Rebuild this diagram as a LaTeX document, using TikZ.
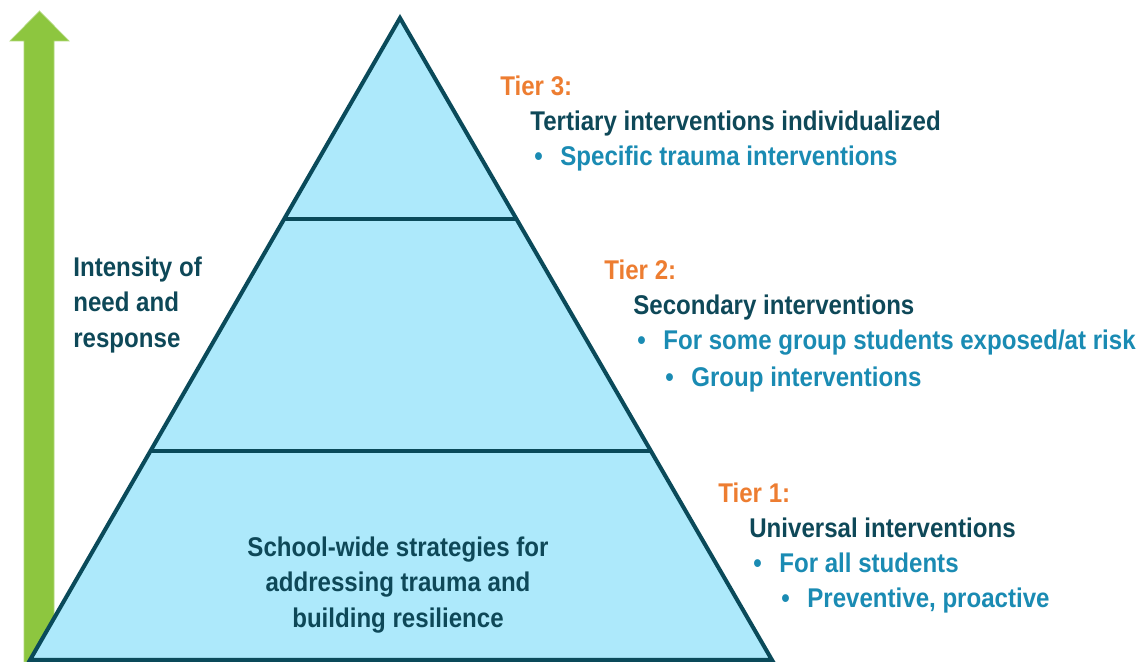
\documentclass[tikz,border=0pt]{standalone}
\usepackage{fontspec}
\setmainfont{Liberation Sans}[FakeStretch=0.89]
\usepackage{tikz}
\usetikzlibrary{calc}
\definecolor{tierorange}{RGB}{237, 125, 49}
\definecolor{tealdark}{RGB}{14, 72, 88}
\definecolor{pointblue}{RGB}{26, 139, 179}
\definecolor{pyrfill}{RGB}{173, 233, 251}
\definecolor{pyredge}{RGB}{10, 74, 90}
\definecolor{arrowgreen}{RGB}{141, 198, 63}
\newcommand{\pbul}{\makebox[0.52cm][l]{•}}
\tikzset{
  tierlabel/.style={anchor=base west, inner sep=0pt, text=tierorange, font=\bfseries\fontsize{15.4}{20}\selectfont},
  tiertitle/.style={anchor=base west, inner sep=0pt, text=tealdark, font=\bfseries\fontsize{15.4}{20}\selectfont},
  tierpoint/.style={anchor=base west, inner sep=0pt, text=pointblue, font=\bfseries\fontsize{15.4}{20}\selectfont},
  basetext/.style={align=center, inner sep=0pt, text=tealdark, font=\bfseries\fontsize{15.4}{20.2}\selectfont}
}

\begin{document}
\begin{tikzpicture}[x=0.02cm, y=-0.02cm]
    \useasboundingbox (0,0) rectangle (1143,662);

    % Arrow: intensity
    \fill[arrowgreen, draw=arrowgreen!70!white, line width=0.4pt]
        (24,662) -- (24,41) -- (10,41) -- (39.5,11) -- (69,41) -- (54,41) -- (54,662) -- cycle;
    \node[tiertitle] (IN) at (73,276) {Intensity of};
    \node[tiertitle] (IN2) at (73,312) {need and};
    \node[tiertitle] (IN3) at (73,347) {response};

    % Pyramid
    \coordinate (A) at (400,18);
    \coordinate (BL) at (30,660);
    \coordinate (BR) at (772,660);
    \coordinate (L1) at ($(A)!0.3131!(BL)$);
    \coordinate (R1) at ($(A)!0.3131!(BR)$);
    \coordinate (L2) at ($(A)!0.6745!(BL)$);
    \coordinate (R2) at ($(A)!0.6745!(BR)$);
    \filldraw[fill=pyrfill, draw=pyredge, line width=2.3pt, line join=miter] (A) -- (BR) -- (BL) -- cycle;
    \draw[pyredge, line width=2.3pt] (L1) -- (R1);
    \draw[pyredge, line width=2.3pt] (L2) -- (R2);

    \node[basetext, anchor=base] (BASE) at (398,627) {School-wide strategies for\\addressing trauma and\\building resilience};

    % Tier 3
    \node[tierlabel] (T3) at (500,96) {Tier 3:};
    \node[tiertitle] (T3a) at (530,131) {Tertiary interventions individualized};
    \node[tierpoint] (T3b) at (534,166) {\pbul Specific trauma interventions};

    % Tier 2
    \node[tierlabel] (T2) at (604,280) {Tier 2:};
    \node[tiertitle] (T2a) at (633,315) {Secondary interventions};
    \node[tierpoint] (T2b) at (637,350) {\pbul For some group students exposed/at risk};
    \node[tierpoint] (T2c) at (665,386) {\pbul Group interventions};

    % Tier 1
    \node[tierlabel] (T1) at (718,502) {Tier 1:};
    \node[tiertitle] (T1a) at (749,537) {Universal interventions};
    \node[tierpoint] (T1b) at (753,572) {\pbul For all students};
    \node[tierpoint] (T1c) at (781,607) {\pbul Preventive, proactive};
\end{tikzpicture}
\end{document}
